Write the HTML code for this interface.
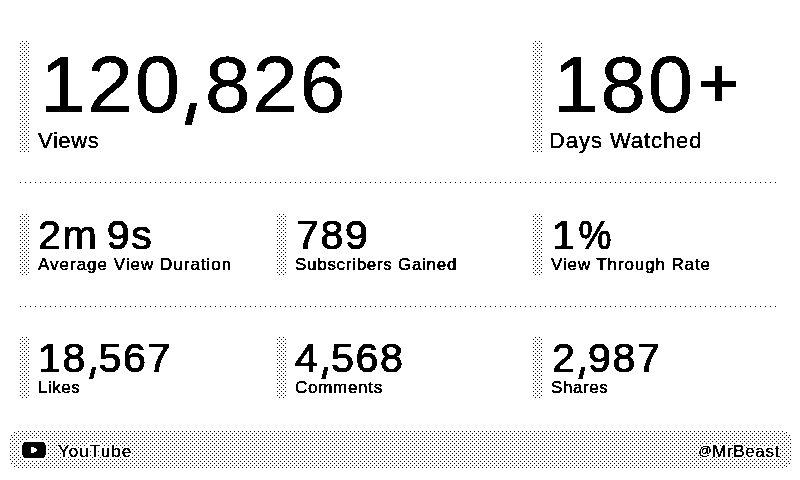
<!DOCTYPE html>
<html>
<head>
<meta charset="utf-8">
<title>YouTube Analytics</title>
<style>
html,body{margin:0;padding:0;}
body{width:800px;height:480px;background:#fff;overflow:hidden;position:relative;font-family:"Liberation Sans",sans-serif;color:#000;}
#bg{position:absolute;left:0;top:0;width:800px;height:480px;}
.t{filter:url(#th);position:absolute;white-space:nowrap;line-height:1;margin:0;padding:0;transform-origin:0 0;}
.big{font-size:79.3px;letter-spacing:1.95px;-webkit-text-stroke:0.4px #000;transform:scaleX(1.03);}
.mid{font-size:40px;letter-spacing:1.55px;word-spacing:-4.5px;-webkit-text-stroke:1px #000;transform:scaleX(1.03);}
.lab1{font-size:22px;letter-spacing:0px;-webkit-text-stroke:0.35px #000;}
.lab2{font-size:17px;font-weight:normal;-webkit-text-stroke:0.45px #000;}
.tb{font-size:17px;font-weight:normal;-webkit-text-stroke:0.3px #000;letter-spacing:1.05px;text-shadow:1px 0 #fff,-1px 0 #fff,0 1px #fff,0 -1px #fff,1px 1px #fff,-1px -1px #fff,1px -1px #fff,-1px 1px #fff,2px 0 #fff,-2px 0 #fff,0 2px #fff,0 -2px #fff;}
.pc{display:inline-block;position:relative;left:-1.5px;transform:scaleX(0.9);transform-origin:100% 50%;}
.pl{color:transparent;-webkit-text-stroke:0 transparent;}
.at{font-size:13px;position:relative;top:-2.5px;letter-spacing:0.5px;}
.c{letter-spacing:0;position:relative;display:inline-block;color:transparent;-webkit-text-stroke:0 transparent;}
.c::after{content:"";position:absolute;background:#000;transform:skewX(-14deg);}
.big .c::after{left:5px;top:57.5px;width:6.5px;height:22px;}
.mid .c::after{left:3.3px;top:28.5px;width:4px;height:12px;}
</style>
</head>
<body>
<svg id="bg" width="800" height="480" viewBox="0 0 800 480" shape-rendering="crispEdges">
  <defs>
    <pattern id="p" width="4" height="4" patternUnits="userSpaceOnUse">
      <rect x="2" y="1" width="1" height="1" fill="#000"/>
      <rect x="0" y="3" width="1" height="1" fill="#000"/>
    </pattern>
    <pattern id="q" width="4" height="4" patternUnits="userSpaceOnUse">
      <rect x="0" y="1" width="1" height="1" fill="#000"/>
      <rect x="2" y="3" width="1" height="1" fill="#000"/>
    </pattern>
    <filter id="th" x="-5%" y="-20%" width="110%" height="140%" color-interpolation-filters="sRGB">
      <feComponentTransfer>
        <feFuncR type="discrete" tableValues="0 1"/>
        <feFuncG type="discrete" tableValues="0 1"/>
        <feFuncB type="discrete" tableValues="0 1"/>
        <feFuncA type="discrete" tableValues="0 1"/>
      </feComponentTransfer>
    </filter>
    <pattern id="d" width="5" height="1" patternUnits="userSpaceOnUse">
      <rect x="0" y="0" width="1" height="1" fill="#000"/>
    </pattern>
  </defs>
  <!-- side bars -->
  <g transform="translate(20,40)"><rect width="10" height="112" fill="url(#p)"/></g>
  <g transform="translate(533,40)"><rect width="10" height="112" fill="url(#p)"/></g>
  <g transform="translate(20,213)"><rect width="10" height="62" fill="url(#p)"/></g>
  <g transform="translate(277,213)"><rect width="10" height="62" fill="url(#p)"/></g>
  <g transform="translate(533,213)"><rect width="10" height="62" fill="url(#p)"/></g>
  <g transform="translate(20,336)"><rect width="10" height="62" fill="url(#p)"/></g>
  <g transform="translate(277,336)"><rect width="10" height="62" fill="url(#p)"/></g>
  <g transform="translate(533,336)"><rect width="10" height="62" fill="url(#p)"/></g>
  <!-- plus sign -->
  <rect x="701" y="81" width="35" height="6" fill="#000"/>
  <rect x="715" y="66" width="7" height="35" fill="#000"/>
  <!-- dotted separators -->
  <g transform="translate(20,182)"><rect width="760" height="1" fill="url(#d)"/></g>
  <g transform="translate(20,306)"><rect width="760" height="1" fill="url(#d)"/></g>
  <!-- title bar -->
  <g transform="translate(10,430)"><rect width="781" height="39" rx="10" ry="10" fill="url(#q)"/></g>
  <!-- stray dither dots at title bar corners -->
  <g fill="#000">
    <rect x="14" y="432" width="1" height="1"/><rect x="11" y="435" width="1" height="1"/>
    <rect x="11" y="463" width="1" height="1"/><rect x="14" y="466" width="1" height="1"/>
    <rect x="786" y="432" width="1" height="1"/><rect x="789" y="435" width="1" height="1"/>
    <rect x="789" y="463" width="1" height="1"/><rect x="786" y="466" width="1" height="1"/>
  </g>
  <!-- youtube icon with white halo -->
  <g fill="#fff">
    <rect x="20" y="442" width="28" height="15"/>
    <rect x="21" y="440" width="26" height="2"/>
    <rect x="21" y="457" width="26" height="2"/>
    <rect x="23" y="459" width="23" height="2"/>
    <rect x="27" y="439" width="15" height="1"/>
  </g>
  <path d="M24 442H44V443H45V445H46V455H45V457H44V458H24V457H23V455H22V445H23V443H24Z" fill="#000"/>
  <path d="M31 447H34V448H36V449H37V451H36V452H34V453H31Z" fill="#fff"/>
</svg>

<div class="t big" style="left:40px;top:45px;">120<span class="c">,</span>826</div>
<div class="t lab1" style="left:38px;top:130px;letter-spacing:0.6px;">Views</div>
<div class="t big" style="left:553px;top:45px;">180<span class="pl">+</span></div>
<div class="t lab1" style="left:549px;top:130px;letter-spacing:0.93px;">Days Watched</div>

<div class="t mid" style="left:38px;top:215px;">2m 9s</div>
<div class="t lab2" style="left:38.0px;top:256px;letter-spacing:1.0px;">Average View Duration</div>
<div class="t mid" style="left:296px;top:215px;">789</div>
<div class="t lab2" style="left:295.0px;top:256px;letter-spacing:0.71px;">Subscribers Gained</div>
<div class="t mid" style="left:552px;top:215px;">1<span class="pc">%</span></div>
<div class="t lab2" style="left:551.0px;top:256px;letter-spacing:0.88px;">View Through Rate</div>

<div class="t mid" style="left:38px;top:338px;">18<span class="c">,</span>567</div>
<div class="t lab2" style="left:38.0px;top:379px;letter-spacing:0.5px;">Likes</div>
<div class="t mid" style="left:295px;top:338px;">4<span class="c">,</span>568</div>
<div class="t lab2" style="left:295.0px;top:379px;letter-spacing:0.71px;">Comments</div>
<div class="t mid" style="left:552px;top:338px;">2<span class="c">,</span>987</div>
<div class="t lab2" style="left:551.0px;top:379px;letter-spacing:0.6px;">Shares</div>

<div class="t tb" style="left:58px;top:443px;">YouTube</div>
<div class="t tb" style="right:20px;top:443px;letter-spacing:0.65px;"><span class="at">@</span>MrBeast</div>
</body>
</html>
